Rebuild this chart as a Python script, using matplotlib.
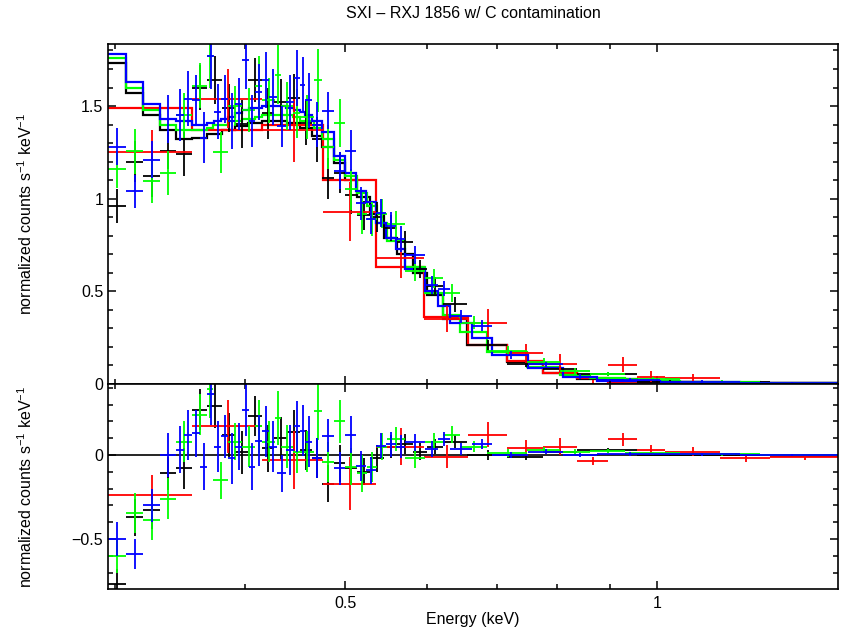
import numpy as np
import matplotlib
matplotlib.use('Agg')
import matplotlib.pyplot as plt
from matplotlib.ticker import FixedLocator, NullFormatter

plt.rcParams['font.family'] = ['Liberation Sans', 'DejaVu Sans']
plt.rcParams['mathtext.fontset'] = 'custom'
plt.rcParams['mathtext.rm'] = 'Liberation Sans'
plt.rcParams['mathtext.it'] = 'Liberation Sans:italic'

# energy bin edges (keV), data, 1-sigma errors and folded model for each spectrum
black_edges = [0.2952, 0.3073, 0.3192, 0.3314, 0.3435, 0.3559, 0.3679, 0.3804, 0.3916, 0.4030,
               0.4157, 0.4270, 0.4395, 0.4524, 0.4646, 0.4751, 0.4879, 0.5000, 0.5135, 0.5286,
               0.5452, 0.5612, 0.5816, 0.6000, 0.6218, 0.6556, 0.7168, 0.7764, 0.8374, 0.9567,
               1.1003, 1.2854, 1.4950]
black_data = [0.96, 1.20, 1.12, 1.26, 1.24, 1.60, 1.64, 1.49, 1.405, 1.64,
              1.46, 1.52, 1.545, 1.41, 1.32, 1.11, 1.14, 1.02, 0.91, 0.90,
              0.84, 0.765, 0.62, 0.53, 0.43, 0.21, 0.11, 0.08, 0.055, 0.012,
              0.010, 0.0]
black_err = [0.09, 0.11, 0.11, 0.10, 0.12, 0.12, 0.13, 0.13, 0.13, 0.12,
             0.14, 0.125, 0.13, 0.12, 0.12, 0.11, 0.11, 0.10, 0.08, 0.08,
             0.07, 0.06, 0.05, 0.045, 0.04, 0.03, 0.02, 0.015, 0.012, 0.008,
             0.007, 0.006]
black_model = [1.73, 1.57, 1.45, 1.37, 1.32, 1.33, 1.35, 1.37, 1.39, 1.41,
               1.42, 1.42, 1.41, 1.38, 1.34, 1.28, 1.19, 1.10, 1.01, 0.92,
               0.79, 0.70, 0.60, 0.48, 0.35, 0.21, 0.12, 0.06, 0.025, 0.012,
               0.008, 0.005]

red_edges = [0.2952, 0.3559, 0.4157, 0.4762, 0.5357, 0.5959, 0.6571, 0.7168, 0.7764, 0.8374,
             0.8973, 0.9567, 1.0179, 1.1502, 1.2854, 1.4950]
red_data = [1.25, 1.54, 1.37, 0.93, 0.68, 0.35, 0.33, 0.165, 0.11, -0.005,
            0.105, 0.04, 0.03, -0.012, -0.005]
red_err = [0.12, 0.16, 0.17, 0.16, 0.11, 0.07, 0.075, 0.05, 0.05, 0.025,
           0.04, 0.03, 0.025, 0.02, 0.018]
red_model = [1.49, 1.37, 1.40, 1.10, 0.63, 0.36, 0.21, 0.124, 0.06, 0.03,
             0.012, 0.012, 0.01, 0.008, 0.006]

green_edges = [0.2952, 0.3073, 0.3192, 0.3314, 0.3435, 0.3559, 0.3679, 0.3729, 0.3855, 0.3977,
               0.4093, 0.4157, 0.4280, 0.4337, 0.4454, 0.4524, 0.4667, 0.4751, 0.4879, 0.5000,
               0.5135, 0.5251, 0.5369, 0.5489, 0.5713, 0.5973, 0.6218, 0.6456, 0.6856, 0.7494,
               0.8063, 0.8619, 0.9313, 1.0524, 1.2573, 1.4950]
green_data = [1.16, 1.255, 1.095, 1.14, 1.45, 1.61, 1.77, 1.25, 1.50, 1.48,
              1.61, 1.53, 1.67, 1.50, 1.46, 1.44, 1.64, 1.28, 1.41, 1.05,
              0.92, 0.89, 0.92, 0.865, 0.61, 0.57, 0.49, 0.33, 0.18, 0.12,
              0.07, 0.055, 0.025, 0.012, 0.005]
green_err = [0.10, 0.12, 0.12, 0.12, 0.12, 0.12, 0.17, 0.11, 0.11, 0.12,
             0.16, 0.12, 0.16, 0.13, 0.13, 0.12, 0.17, 0.12, 0.13, 0.11,
             0.11, 0.09, 0.08, 0.07, 0.055, 0.05, 0.05, 0.035, 0.025, 0.02,
             0.015, 0.012, 0.01, 0.008, 0.007]
green_model = [1.76, 1.60, 1.48, 1.40, 1.37, 1.37, 1.38, 1.40, 1.42, 1.43,
               1.44, 1.45, 1.45, 1.45, 1.44, 1.42, 1.38, 1.32, 1.21, 1.12,
               1.03, 0.96, 0.87, 0.77, 0.63, 0.49, 0.37, 0.28, 0.17, 0.09,
               0.05, 0.03, 0.015, 0.009, 0.005]

blue_edges = [0.2952, 0.3073, 0.3192, 0.3314, 0.3435, 0.3496, 0.3559, 0.3622, 0.3679, 0.3737,
              0.3796, 0.3855, 0.3916, 0.3977, 0.4039, 0.4093, 0.4157, 0.4223, 0.4299, 0.4385,
              0.4464, 0.4524, 0.4575, 0.4646, 0.4751, 0.4879, 0.5000, 0.5124, 0.5239, 0.5357,
              0.5477, 0.5600, 0.5713, 0.5973, 0.6150, 0.6316, 0.6631, 0.6933, 0.7510, 0.8116,
              0.8754, 1.0067, 1.2024, 1.4950]
blue_data = [1.28, 1.04, 1.21, 1.43, 1.45, 1.54, 1.53, 1.33, 1.77, 1.47,
             1.54, 1.42, 1.51, 1.75, 1.42, 1.575, 1.64, 1.55, 1.39, 1.52,
             1.65, 1.615, 1.53, 1.40, 1.475, 1.15, 1.26, 0.975, 0.89, 0.924,
             0.854, 0.78, 0.695, 0.535, 0.515, 0.365, 0.315, 0.157, 0.106, 0.04,
             0.02, 0.012, 0.005]
blue_err = [0.10, 0.09, 0.10, 0.13, 0.14, 0.15, 0.14, 0.14, 0.18, 0.15,
            0.13, 0.15, 0.14, 0.16, 0.14, 0.15, 0.15, 0.15, 0.11, 0.15,
            0.15, 0.15, 0.15, 0.12, 0.10, 0.10, 0.11, 0.09, 0.08, 0.075,
            0.075, 0.07, 0.05, 0.05, 0.04, 0.035, 0.03, 0.02, 0.015, 0.012,
            0.01, 0.008, 0.007]
blue_model = [1.78, 1.63, 1.51, 1.43, 1.42, 1.42, 1.40, 1.40, 1.41, 1.42,
              1.43, 1.44, 1.46, 1.48, 1.49, 1.49, 1.50, 1.50, 1.50, 1.49,
              1.48, 1.47, 1.45, 1.42, 1.36, 1.23, 1.14, 1.04, 0.98, 0.87,
              0.79, 0.73, 0.62, 0.50, 0.42, 0.33, 0.25, 0.157, 0.086, 0.04,
              0.015, 0.009, 0.005]

title = 'SXI \u2013 RXJ 1856 w/ C contamination'
ylab = r'normalized counts s$^{-1}$ keV$^{-1}$'
fs = 11.5

fig = plt.figure(figsize=(8.45, 6.3), dpi=100)
ax1 = fig.add_axes([0.1278, 0.3905, 0.8639, 0.5397])
ax2 = fig.add_axes([0.1278, 0.0651, 0.8639, 0.3254], sharex=ax1)

ax2.axhline(0, color='black', lw=1.2, zorder=1)


def plot_spec(edges, data, err, model, color):
    edges = np.array(edges)
    data = np.array(data)
    model = np.array(model)
    cen = 0.5 * (edges[:-1] + edges[1:])
    xerr = [cen - edges[:-1], edges[1:] - cen]
    ax1.errorbar(cen, data, xerr=xerr, yerr=err, fmt='none', ecolor=color, elinewidth=1.3)
    ax1.stairs(model, edges, baseline=None, color=color, lw=1.6)
    ax2.errorbar(cen, data - model, xerr=xerr, yerr=err, fmt='none', ecolor=color, elinewidth=1.3)


plot_spec(black_edges, black_data, black_err, black_model, 'black')
plot_spec(red_edges, red_data, red_err, red_model, '#ff0000')
plot_spec(green_edges, green_data, green_err, green_model, '#00ff00')
plot_spec(blue_edges, blue_data, blue_err, blue_model, '#0000ff')

ax1.set_xscale('log')
ax1.set_xlim(0.2952, 1.495)
ax1.set_ylim(0, 1.835)
ax2.set_ylim(-0.798, 0.4226)

for ax in (ax1, ax2):
    ax.xaxis.set_major_locator(FixedLocator([0.5, 1.0]))
    ax.xaxis.set_minor_locator(FixedLocator([0.3, 0.4, 0.6, 0.7, 0.8, 0.9]))
    ax.xaxis.set_minor_formatter(NullFormatter())
    ax.tick_params(which='both', direction='in', top=True, right=True, labelsize=fs)
    ax.tick_params(which='major', length=6, width=1.1)
    ax.tick_params(which='minor', length=3.5, width=1.1)
    for s in ax.spines.values():
        s.set_linewidth(1.2)

ax1.yaxis.set_major_locator(FixedLocator([0, 0.5, 1, 1.5]))
ax1.set_yticklabels(['0', '0.5', '1', '1.5'])
ax1.yaxis.set_minor_locator(FixedLocator(np.arange(0, 1.85, 0.1)))
ax1.tick_params(axis='x', labelbottom=False)

ax2.yaxis.set_major_locator(FixedLocator([-0.5, 0]))
ax2.set_yticklabels(['\u22120.5', '0'])
ax2.yaxis.set_minor_locator(FixedLocator(np.arange(-0.7, 0.45, 0.1)))
ax2.set_xticklabels(['0.5', '1'])
ax2.tick_params(axis='x', pad=5)

ax1.set_ylabel(ylab, fontsize=fs)
ax2.set_ylabel(ylab, fontsize=fs)
ax1.yaxis.set_label_coords(-0.100, 0.5)
ax2.yaxis.set_label_coords(-0.100, 0.5)
ax2.set_xlabel('Energy (keV)', fontsize=fs, labelpad=1)
ax1.set_title(title, fontsize=fs, pad=19)

fig.savefig('out.png', dpi=100)
